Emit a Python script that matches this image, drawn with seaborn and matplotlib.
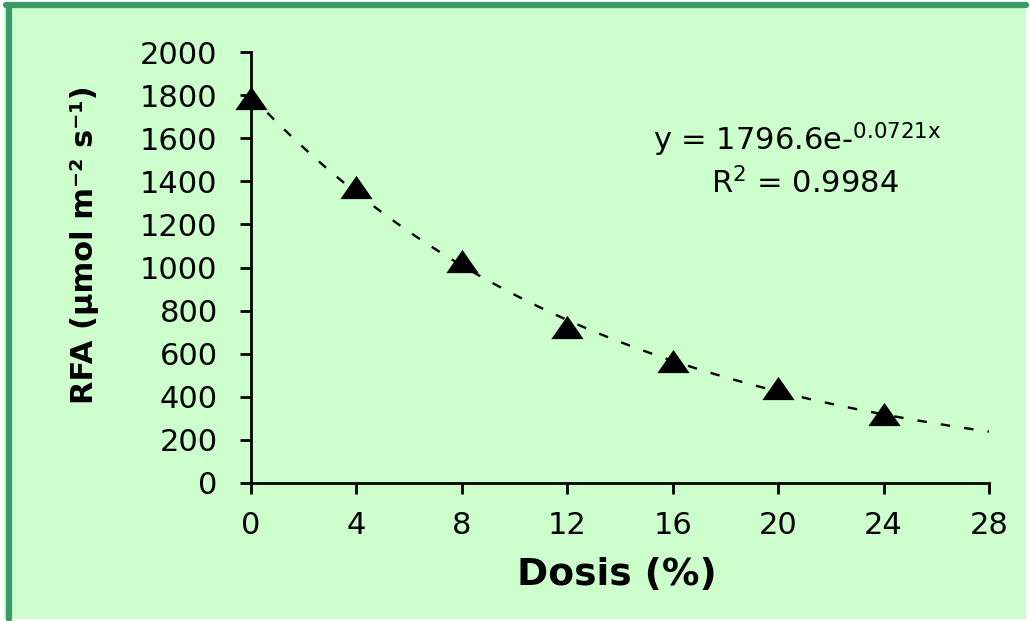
import numpy as np
import pandas as pd
import matplotlib
matplotlib.use("Agg")
import matplotlib.pyplot as plt
import seaborn as sns
from matplotlib.patches import Rectangle

# Measured photosynthetically active radiation by dose
dosis = [0, 4, 8, 12, 16, 20, 24]
rfa = [1787, 1374, 1028, 722, 564, 443, 322]

# Exponential trendline coefficients (y = a * exp(b * x))
coef_a = 1796.6
coef_b = -0.0721
r2 = 0.9984

x_ticks = [0, 4, 8, 12, 16, 20, 24, 28]
y_ticks = [0, 200, 400, 600, 800, 1000, 1200, 1400, 1600, 1800, 2000]

bg = "#CCFFCC"
frame = "#3A9A6A"

sns.set_theme(style="ticks")
plt.rcParams["font.family"] = ["DejaVu Sans"]
plt.rcParams["mathtext.fontset"] = "dejavusans"
plt.rcParams["text.color"] = "black"

fig = plt.figure(figsize=(10.30, 6.21), dpi=100, facecolor="white")
fig.patches.append(Rectangle((0.004, 0.004), 0.992, 0.99, transform=fig.transFigure,
                             facecolor=bg, edgecolor="none", zorder=-2))
# green frame on left and top edges
fig.lines.append(plt.Line2D([0.0085, 0.0085], [0.004, 0.9925], transform=fig.transFigure,
                            color=frame, lw=4.5))
fig.lines.append(plt.Line2D([0.006, 0.996], [0.9925, 0.9925], transform=fig.transFigure,
                            color=frame, lw=4.5))

ax = fig.add_axes([251 / 1030, 1 - 483 / 621, (989 - 251) / 1030, (483 - 52) / 621])
ax.set_facecolor("none")

df = pd.DataFrame({"Dosis": dosis, "RFA": rfa})
xs = np.linspace(0, 28, 200)
trend = pd.DataFrame({"Dosis": xs, "RFA": coef_a * np.exp(coef_b * xs)})

# flattened triangle marker
tri = [(-1.0, -0.72), (1.0, -0.72), (0.0, 0.72), (-1.0, -0.72)]

sns.lineplot(data=trend, x="Dosis", y="RFA", ax=ax, color="black", lw=1.7,
             linestyle=(0, (4, 6)), zorder=2)
sns.scatterplot(data=df, x="Dosis", y="RFA", ax=ax, marker=tri, s=540,
                color="black", edgecolor="black", linewidth=0, zorder=3, clip_on=False)

ax.set_xlim(0, 28)
ax.set_ylim(0, 2000)
ax.set_xticks(x_ticks)
ax.set_yticks(y_ticks)
ax.set_xticklabels([str(v) for v in x_ticks], fontsize=22)
ax.set_yticklabels([str(v) for v in y_ticks], fontsize=22)
ax.tick_params(axis="both", direction="out", length=8, width=2, color="black",
               labelcolor="black")
ax.tick_params(axis="x", pad=12)
ax.tick_params(axis="y", pad=16)

for side in ["top", "right"]:
    ax.spines[side].set_visible(False)
for side in ["left", "bottom"]:
    ax.spines[side].set_color("black")
    ax.spines[side].set_linewidth(2)

ax.set_xlabel("Dosis (%)", fontsize=27, fontweight="bold", color="black", va="center")
ax.xaxis.set_label_coords(0.496, -0.213)
ax.set_ylabel("RFA (µmol m\u207b\u00b2 s\u207b\u00b9)", fontsize=22,
              fontweight="bold", color="black", va="center")
ax.yaxis.set_label_coords(-0.225, 0.552)

ax.text(0.740, 0.796, "y = 1796.6e-$^{\\mathrm{0.0721x}}$", transform=ax.transAxes,
        fontsize=22, ha="center", va="center", color="black")
ax.text(0.750, 0.696, "R$^{\\mathrm{2}}$ = %.4f" % r2, transform=ax.transAxes,
        fontsize=22, ha="center", va="center", color="black")

fig.savefig("out.png", dpi=100, facecolor="white")
